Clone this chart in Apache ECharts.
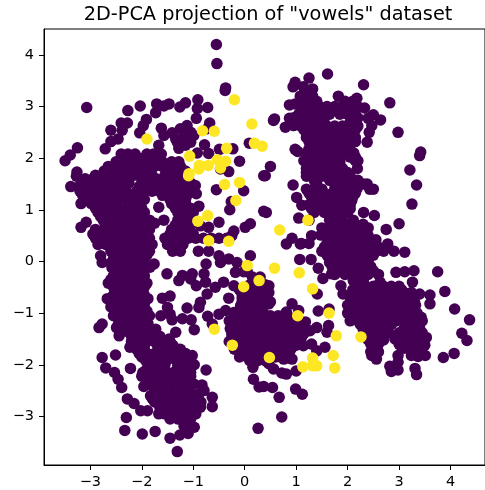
<!DOCTYPE html>
<html><head><meta charset="utf-8">
<style>html,body{margin:0;padding:0;background:#fff}#c{width:485px;height:490px}</style>
<script src="https://cdn.jsdelivr.net/npm/echarts@6/dist/echarts.min.js"></script>
</head><body><div id="c"></div>
<script>
const titleText = '2D-PCA projection of "vowels" dataset';
const xTicks = [-3,-2,-1,0,1,2,3,4];
const yTicks = [-3,-2,-1,0,1,2,3,4];
const inliersScattered = [
[-.55,4.2],[-.54,3.83],[-.38,3.31],[-.37,3.36],[-3.07,2.98],[-2.27,2.92],[-2.03,3.01],[-1.71,3.05],[-1.73,2.88],[-1.47,3.05],[-1.57,3.01],[-1.26,2.99],[-1.15,3.07],[-.91,3.13],[-.92,2.96],[-.72,2.98],[-.94,2.77],[-.68,2.68],[-.73,2.57],[-1.91,2.75],[-1.97,2.63],[-2.04,2.49],[-2.28,2.68],[-2.4,2.68],[-2.38,2.54],[-2.6,2.54],[-2.46,2.37],[-2.6,2.32],[-2.71,2.18],[-3.25,2.2],[-3.39,2.06],[-3.49,1.95],[-3.26,1.73],[-3.27,1.65],
[-1.62,2.58],[-1.57,2.44],[-1.41,2.49],[-1.25,2.57],[-1.12,2.63],[-1.05,2.5],[-1.18,2.41],[-1.31,2.31],[-1.28,2.19],[-1.05,2.31],[-1.15,2.25],[-1.34,2.37],[-.99,2.44],[-.78,2.26],[-.7,2.09],[-.92,2.1],[-.49,2.17],[-.23,2.18],[.09,2.29],[-.1,1.94],[-.47,1.79],[-.31,1.74],[-.55,1.39],[-.02,1.37],[.37,1.66],[.37,.97],[-.26,1.16],[-.29,1],[.01,.66],[.11,.73],[-.89,1.07],[-.94,1.31],[-.96,1.47],[-.5,.76],[-.7,.66],[-.86,.69],[-.21,.59],[-.25,.5],[-1.67,1.05],[-1.75,.74],[-1.57,.8],[-3.18,.66],[-3.08,.76],[-1.67,2.25],
[-2.8,.11],[-2.77,-.02],[-1.76,-.05],[-1.84,-.11],[-1.51,-.24],[-1.28,-.37],[-1.21,-.27],[-1.02,-.24],[-1.05,-.34],[-.94,-.47],[-.79,-.24],[-.75,-.05],[-.76,-.4],[-.57,-.5],[-.41,-.4],[-.47,-.02],[-.5,.11],[-.31,.05],[-.15,-.02],[-.18,-.21],[.11,.11],[-.21,-.47],[-.73,-.63],[-.86,-.79],[-.89,-.89],[-1.12,-.9],[-1.6,-.71],[-1.45,-.67],[-1.5,-.89],[-1.45,-1.02],[-1.63,-1.05],[-1.41,-1.13],[-1.21,-1.11],[-1.04,-1.13],[-.98,-1.32],[-.72,-1.06],[-.37,-.95],[-.5,-1.02],[-.63,-1.21],[-.31,-.71],
[-2.77,-1.21],[-2.83,-1.28],[-2.49,-1.28],[-2.44,-1.44],[-1.73,-1.31],[-1.34,-1.37],[-1.47,-1.5],[-1.96,-1.47],[-2.23,-1.66],[-1.02,-1.82],[-.75,-2.1],[-2.22,-2.07],[-1.96,-2.42],[-1.83,-2.6],[-1.67,-2.4],[-1.12,-2.41],[-.83,-2.39],[-.99,-2.37],[-.63,-2.63],[-.63,-2.81],[-.79,-2.5],[-2.28,-2.66],[-2.15,-2.75],[-2.02,-2.89],[-1.89,-2.89],[-2.3,-3.02],[-2.33,-3.27],[-1.99,-3.34],[-1.74,-3.29],[-1.45,-3.42],[-1.26,-3.36],[-1.1,-3.33],[-.98,-3.21],[-1.18,-3.18],[-1.31,-3.68],[.26,-3.23],[-2.77,-1.86],[-2.51,-1.81],[-2.7,-2.06],[-2.53,-2.15],[-2.46,-2.28],[-2.39,-2.44],
[.17,-2.28],[.28,-2.43],[.16,-2.05],[-.21,-.99],[-.08,-.86],[.24,-.82],[.81,-.98],[.92,-.82],[1.05,-.95],[1.18,-1.17],[1.43,-.96],[1.64,-.92],[1.63,-1.24],[1.6,-1.37],[1.4,-1.28],[1.27,-1.34],[1.56,-1.66],[1.3,-1.6],[1.14,-1.63],[1.4,-1.73],[.56,-2.08],[.72,-2.16],[.81,-2.18],[1,-2.12],[.47,-1.98],[.82,-1.76],[.92,-1.89],[.76,-1.89],[.37,-2.42],[.54,-2.44],[.67,-2.63],[.99,-2.47],[1.12,-2.57],[.72,-3.01],[.47,-.47],[.47,-.6],[.47,-.82],
[1.07,.04],[1.29,.04],[1.43,-.13],[1.52,-.33],[1.69,-.24],[1.87,-.47],[1.91,-.63],[1.41,-.63],[3.11,.18],[2.94,-.21],[3.11,-.2],[3.29,-.18],[3.26,-.4],[3.75,-.2],[3.89,-.58],[4.08,-.92],[4.37,-1.13],[4.22,-1.39],[4.32,-1.53],[4.07,-1.78],[3.86,-1.86],[3.6,-.65],[3.6,-.82],[3.4,-.63],[3.24,-.6],[2.11,-.37],[2.31,-.4],[2.63,-.4],[2.47,-1.82],[2.56,-1.89],[2.98,-1.82],[3.05,-1.66],[2.98,-1.95],[2.82,-2.03],[2.85,-2.13],[2.98,-2.1],[3.31,-2.07],[3.34,-2.19],[3.24,-1.82],[3.37,-1.84],[3.51,-1.82],[3.5,-1.62],[3.53,-1.47],[3.43,-1.08],[3.15,-1.34],[2.92,-1.5],
[1.61,3.63],[1.25,3.55],[.98,3.47],[.94,3.38],[1.14,3.38],[1.32,3.34],[2.31,3.42],[1.82,3.2],[2.82,3.07],[2.18,3.16],[.87,3.03],[.98,3.05],[.58,2.76],[.56,2.73],[.87,2.77],[.79,2.6],[.95,2.63],[2.33,2.97],[2.5,2.84],[2.64,2.74],[2.4,2.77],[2.47,2.63],[2.42,2.5],[2.38,2.31],[2.98,2.5],[3.42,2.12],[3.4,2.05],[3.21,1.77],[3.34,1.48],[3.25,1.11],[3,.73],[2.75,.62],[2.55,.42],[2.78,.34],[2.52,.89],[.5,1.84],[.4,1.66],[.42,.95],[.98,2.17],[1.03,2.13],[.94,1.48],[1.01,1.24],[1.11,1.09],[1.05,.84],[1.48,.51],[.92,.45],[.81,.34],[1.08,.34],
[-2.1,-1.4],[-1.95,-1.35],[-1.8,-1.4],[-1.65,-1.45],[-2.05,-1.48],[-2.2,-1.45],[-1.3,-2.02],[-1.5,-1.9],[-1.5,-2.15],[-1.32,-1.93],[-1.32,-2.1],[-1.48,-2.6],[-1.4,-2.36],[-1.36,-2.48]
];
/* dense zones: each row is [y, x, x, x ...] */
const denseLeft = [
[2.08,-2.4,-2.27,-2.13,-1.9,-1.77,-1.62],[2,-2.33,-2.2,-2.05,-1.85,-1.7],[1.93,-2.5,-2.35,-2.2,-2.05,-1.9,-1.75,-1.6,-1.42,-1.28],[1.84,-2.65,-2.5,-2.35,-2.2,-2.05,-1.9,-1.75,-1.6,-1.4,-1.25],[1.75,-2.73,-2.6,-2.45,-2.3,-2.15,-2,-1.85,-1.45,-1.3,-1.15],[1.67,-2.9,-2.75,-2.6,-2.45,-2.3,-2.15,-1.95,-1.8,-1.55,-1.4,-1.25,-1.1],[1.6,-3.1,-2.95,-2.8,-2.65,-2.5,-2.35,-2,-1.85,-1.72,-1.5,-1.35,-1.2],[1.52,-3.15,-3,-2.85,-2.7,-2.55,-2.4,-2.25,-2,-1.85,-1.65,-1.5,-1.35,-1.2,-1.05],[1.45,-3.38,-3.22,-3.08,-2.93,-2.78,-2.62,-2.45,-2.05,-1.9,-1.75,-1.6,-1.42,-1.28,-1.15,-1],[1.36,-3.2,-3.05,-2.9,-2.75,-2.6,-2.45,-2.3,-2.1,-1.95,-1.8,-1.65,-1.5,-1.35,-1.2,-1.05],[1.28,-3.15,-3,-2.85,-2.7,-2.55,-2.3,-2.15,-1.6,-1.42,-1.28,-1.12],[1.2,-3.05,-2.9,-2.75,-2.6,-2.45,-2.3,-2.1,-1.95,-1.45,-1.3,-1.15],[1.12,-3.18,-2.98,-2.82,-2.68,-2.52,-2.2,-2.05,-1.42,-1.3,-1.15],[1.03,-2.9,-2.75,-2.6,-2.45,-2.3,-2.15,-2,-1.35,-1.2,-1.05],[.95,-2.85,-2.7,-2.55,-2.4,-2.25,-2.1,-1.95,-1.3,-1.15,-1],[.87,-2.8,-2.65,-2.5,-2.35,-2.2,-2.05,-1.25,-1.1],[.8,-2.75,-2.6,-2.45,-2.3,-2.15,-2,-1.85,-1.3,-1.15],[.7,-2.7,-2.55,-2.4,-2.25,-2.1,-1.95,-1.35,-1.2,-1.05],[.62,-2.9,-2.72,-2.58,-2.42,-2.28,-2.12,-1.98,-1.85,-1.42,-1.25,-1.1],[.53,-2.95,-2.8,-2.65,-2.5,-2.35,-2.2,-2.05,-1.9,-1.45,-1.3,-1.15,-1],[.45,-2.9,-2.75,-2.6,-2.45,-2.3,-2.15,-2,-1.85,-1.55,-1.4,-1.25,-1.1,-.95,-.8,-.65,-.5,-.35],[.33,-2.85,-2.7,-2.55,-2.4,-2.25,-2.1,-1.95,-1.8,-1.5,-1.35,-1.2],[.2,-2.6,-2.45,-2.3,-2.15,-2,-1.85,-1.4,-1.25,-.9,-.7],[.12,-2.5,-2.35,-2.2,-2.05,-1.9],[.05,-2.55,-2.4,-2.25,-2.1,-1.95],[-.03,-2.6,-2.45,-2.3,-2.15,-2],[-.12,-2.58,-2.42,-2.28,-2.12,-2],[-.2,-2.5,-2.35,-2.2,-2.05],[-.28,-2.55,-2.4,-2.25,-2.1,-1.95],[-.35,-2.6,-2.45,-2.3,-2.15,-2],[-.42,-2.65,-2.5,-2.35,-2.2,-2.05,-1.9],[-.5,-2.55,-2.4,-2.25,-2.1,-1.95],[-.58,-2.5,-2.32,-2.15,-2],[-.65,-2.55,-2.4,-2.25,-2.1,-1.95],[-.72,-2.67,-2.5,-2.35,-2.2,-2.05,-1.88],[-.8,-2.55,-2.4,-2.25,-2.1,-1.95],[-.88,-2.6,-2.42,-2.25,-2.1,-1.95],[-.96,-2.5,-2.35,-2.2,-2.05,-1.9],[-1.05,-2.55,-2.4,-2.25,-2.1,-1.95,-1.85],[-1.12,-2.4,-2.25,-2.1,-1.95],[-1.2,-2.45,-2.3,-2.15,-2,-1.88],[-1.28,-2.35,-2.2,-2.05],[-1.35,-2.3,-2.15]
];
const denseBottom = [
[-1.55,-2.2,-2.05,-1.9,-1.75,-1.6,-1.45],[-1.62,-2.1,-1.95,-1.7,-1.55,-1.4],[-1.7,-2.1,-1.95,-1.65,-1.5,-1.3,-1.25],[-1.78,-2.05,-1.9,-1.75,-1.6,-1.45,-1.3,-1.15],[-1.85,-2,-1.85,-1.7,-1.55,-1.4,-1.25,-1.1],[-1.92,-1.92,-1.78,-1.62,-1.2,-1.05],[-2,-1.85,-1.7,-1.55,-1.25,-1.1,-.98],[-2.08,-1.9,-1.75,-1.6,-1.25,-1.1],[-2.15,-1.98,-1.82,-1.68,-1.52,-1.38,-1.22,-1.05],[-2.22,-2,-1.85,-1.7,-1.55,-1.35,-1.2,-1.05],[-2.3,-1.9,-1.75,-1.6,-1.45,-1.3,-1.15],[-2.4,-1.8,-1.55,-1.3,-1.2],[-2.5,-1.75,-1.6,-1.3],[-2.56,-1.7,-1.55,-1.35,-1.2,-1.05,-.9],[-2.65,-1.8,-1.65,-1.5,-1.35,-1.2,-1.05,-.9],[-2.72,-1.75,-1.6,-1.45,-1.3,-1.15,-1,-.85],[-2.82,-1.65,-1.5,-1.35,-1.2,-1.05,-.86],[-2.88,-1.6,-1.45,-1.3,-1.15,-1],[-2.95,-1.67,-1.55,-1.4,-1.25,-1.1,-.95],[-3.05,-1.45,-1.3,-1.2,-1.05]
];
const denseCentre = [
[-.2,.05,-.02],[-.3,.15,.3],[-.45,.1,.25,.4],[-.55,-.1,.05,.2],[-.62,-.05,.1,.25,.38],[-.7,-.05,.12,.3],[-.78,-.05,.1,.38,.5],[-.95,.05,.2,.35],[-1,-.2,-.1,.05],[-1.05,-.1,.05,.2,.35,.5,.65,.75],[-1.1,.37,.5,.65,.8,.92],[-1.15,-.3,-.17,-.02,.13,.28,.4],[-1.2,-.25,-.1,.05,.2,.35,.55,.7,.85,1],[-1.25,.37,.5,.65,.8,.95,1.05],[-1.3,-.28,-.13,.02,.17,.32,.45],[-1.35,-.2,-.05,.1,.25,.4,.55,.7,.85,1,1.1],[-1.4,-.25,-.1,.05,.2,.37,.5,.65,.8,.95,1.05,1.15],[-1.48,-.25,-.1,.05,.2,.35,.5,.65,.8,.95,1.1],[-1.55,-.3,-.1,.05,.2,.4,.55,.7,.85,1],[-1.62,-.2,-.05,.1,.25,.4,.55,.7,.85,1],[-1.7,-.2,-.05,.1,.25,.42,.6,.75,.9],[-1.78,0,.15,.3,.45,.55,.7,.85],[-1.85,-.1,.05,.2,.35,.6,.7],[-1.92,.1,.25,.4]
];
const denseRight = [
[-.48,2.2,2.35,2.5,2.7,2.85,3],[-.55,2.1,2.25,2.4,2.55,2.8,2.95,3.05],[-.62,2.15,2.3,2.45,2.6,2.75,2.9,3.05,3.15],[-.7,2.05,2.2,2.35,2.5,2.65,2.8,2.95,3.1,3.25],[-.78,2.1,2.25,2.4,2.55,2.7,2.85,3,3.15,3.3],[-.85,2,2.15,2.3,2.45,2.6,2.75,2.9,3.05,3.2,3.32],[-.92,2.1,2.25,2.4,2.55,2.7,2.85,3,3.15,3.3],[-1,2,2.15,2.3,2.45,2.6,2.75,2.9,3.05,3.2,3.35],[-1.08,2.1,2.25,2.4,2.55,2.7,2.85,3,3.15,3.3],[-1.15,2.05,2.2,2.35,2.5,2.65,2.8,2.95,3.1,3.25,3.45],[-1.22,2.25,2.4,2.55,2.7,2.85,3.2,3.35],[-1.3,2.3,2.45,2.6,2.75,3.1,3.25,3.4],[-1.38,2.35,2.5,2.65,2.8,3,3.2,3.35,3.45],[-1.45,2.35,2.5,2.65,2.95,3.1,3.25,3.45],[-1.52,2.4,2.55,2.7,3.05,3.2,3.35],[-1.6,2.45,2.6,3,3.15,3.3,3.45],[-1.68,2.5,3.1,3.25,3.4],[-1.75,2.45,2.6]
];
const denseTop = [
[3.2,1.08,1.2,1.32],[3.1,1.1,1.25,1.4,1.95,2.1],[3,1.15,1.3,1.45,1.6,1.75,1.9,2.05,2.2],[2.93,1.1,1.25,1.4,1.55,1.7,1.85,2,2.15],[2.85,1.05,1.2,1.35,1.5,1.65,1.85,2,2.15],[2.78,.95,1.15,1.3,1.45,1.55,2.1,2.2],[2.7,1.1,1.25,1.4,2.05,2.15],[2.62,1.1,1.25,1.4,1.6,1.75,1.9,2.05,2.2],[2.55,1.15,1.3,1.45,1.7,1.85,2,2.15],[2.48,1.2,1.35,1.5,1.65,1.8,1.95,2.1],[2.4,1.2,1.35,1.55,1.7,1.85,2,2.15],[2.32,1.25,1.4,1.55,1.7,1.85,2,2.15],[2.25,1.3,1.45,1.6,1.75,1.9,2.05],[2.18,1.25,1.4,1.55,1.7,1.85,1.95],[2.1,1.2,1.35,1.5,1.65,1.8,2,2.12],[2.02,1.25,1.4,1.55,1.7,1.85,2.05,2.15],[1.95,1.15,1.3,1.45,1.6,1.75,1.85,2.15,2.2],[1.88,1.25,1.4,1.55,1.7,1.85],[1.8,1.2,1.35,1.5,1.65,1.8,1.9,2.19],[1.72,1.2,1.35,1.5,1.65,1.8,1.9,2],[1.65,1.2,1.35,1.5,1.65,1.8,1.95,2.05],[1.57,1.35,1.65,1.8,1.95,2.1,2.2],[1.5,1.4,1.75,1.9,2.05,2.31,2.38],[1.4,1.2,1.35,1.5,1.75,1.9,2,2.18,2.5,2.43],[1.32,1.25,1.4,1.55,1.7,1.85,2,2.15],[1.25,1.3,1.45,1.6,1.75,1.9,2.05,2.1],[1.18,1.35,1.5,1.65,1.8,1.95,2.08],[1.1,1.25,1.45,1.6,1.75,1.9,2.05],[1.02,1.3,1.45,1.6,1.75,1.9,2.05],[.95,1.35,1.55,1.7,1.85,2,2.31],[.88,1.65,1.75,1.9],[.8,1.25,1.65,1.8,2.11],[.72,1.7,1.85,2,2.15,2.3],[.65,1.5,1.65,1.8,1.95,2.1,2.25,2.4],[.58,1.6,1.75,1.9,2.05,2.2,2.35],[.5,1.3,1.6,1.75,1.95,2.1,2.25,2.4],[.42,1.65,1.8,2,2.15,2.3],[.35,1.1,1.25,1.6,1.75,1.9,2.05,2.2,2.35],[.28,1.55,1.7,1.85,2,2.15,2.3,2.45,2.6],[.2,1.5,1.65,1.8,1.95,2.1,2.25,2.4,2.55,2.7,2.9],[.12,1.6,1.75,1.9,2.05,2.2,2.35,2.5],[.05,1.65,1.8,1.95,2.1,2.25,2.4],[-.02,1.65,1.8,1.95,2.1,2.25,2.4],[-.1,1.7,1.85,2,2.15,2.3,2.45],[-.18,1.8,1.95,2.1,2.25,2.4,2.5],[-.25,1.75,1.95,2.1,2.25,2.4,2.6]
];
const outliers = [
[-.2,3.13],[.14,2.66],[-.82,2.53],[-.59,2.52],[-1.9,2.37],[-.35,2.19],[.19,2.29],[.34,2.23],[-1.07,2.04],[-.88,1.86],[-.89,1.79],[-.71,1.86],[-.53,1.97],[-.37,1.94],[-.47,1.81],[-1.08,1.7],[-1.09,1.66],[-.39,1.49],[-.1,1.53],[-.17,1.18],[-.72,.89],[-.91,.78],[-.7,.4],[-.31,.39],[1.23,.8],[.68,.61],[.05,-.08],[-.02,-.49],[.28,-.37],[-.59,-1.31],[-.24,-1.62],[.58,-.13],[1.06,-.22],[1.32,-.53],[1.03,-1.05],[1.64,-1],[1.78,-1.44],[2.26,-1.46],[.48,-1.86],[1.72,-1.82],[1.32,-1.87],[1.75,-2.06],[1.13,-2.04],[1.32,-2.02],[1.4,-2.02]
];
const unrow = rows => rows.flatMap(r => r.slice(1).map(x => [x, r[0]]));
const inliers = inliersScattered.concat(unrow(denseLeft), unrow(denseBottom), unrow(denseCentre), unrow(denseRight), unrow(denseTop));
const minus = v => String(v).replace('-', '\u2212');
const font = 'DejaVu Sans';
const mkAxis = (ticks, min, max) => ({
  type:'value', min, max, splitLine:{show:false},
  axisLine:{show:true,onZero:false,lineStyle:{color:'#000',width:1}},
  axisTick:{show:true,length:5,customValues:ticks,lineStyle:{color:'#000',width:1}},
  axisLabel:{customValues:ticks,formatter:minus,color:'#000',fontFamily:font,fontSize:14.5,margin:10}
});
const chart = echarts.init(document.getElementById('c'),null,{renderer:'canvas'});
chart.setOption({
  animation:false, backgroundColor:'#fff',
  title:{text:titleText,left:263,top:0,textAlign:'center',textStyle:{fontFamily:font,fontSize:19.3,fontWeight:'normal',color:'#000'}},
  grid:{left:44,right:-1,top:29,bottom:25,show:true,borderColor:'#000',borderWidth:1,backgroundColor:'#fff'},
  xAxis:mkAxis(xTicks,-3.9,4.67),
  yAxis:mkAxis(yTicks,-3.94,4.5),
  series:[
    {type:'scatter',data:inliers,symbolSize:11.5,itemStyle:{color:'#440154',opacity:1}},
    {type:'scatter',data:outliers,symbolSize:11.5,itemStyle:{color:'#fde725',opacity:1},z:3}
  ]
});
</script></body></html>
